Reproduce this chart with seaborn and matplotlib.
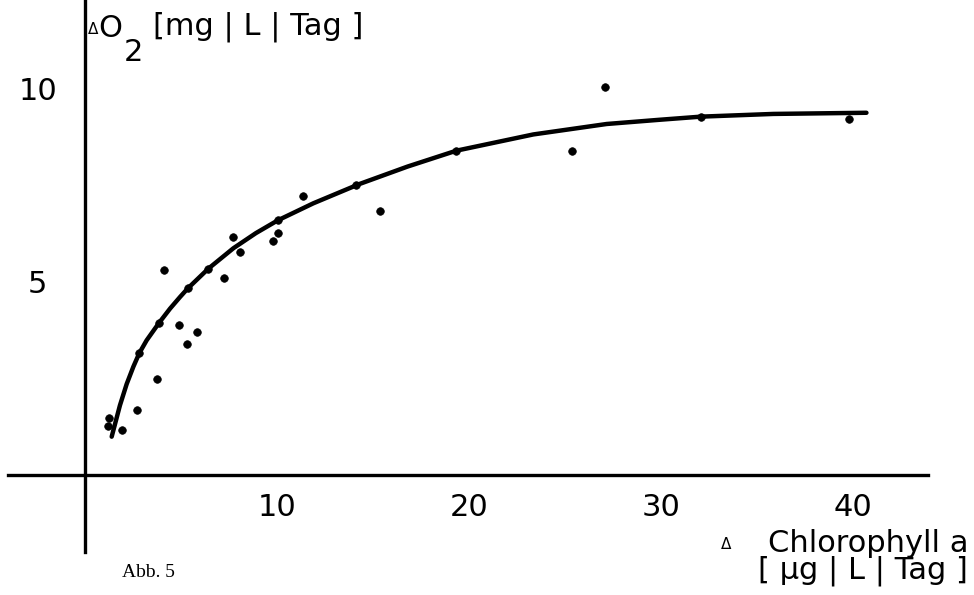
import numpy as np
import pandas as pd
import matplotlib
matplotlib.use("Agg")
import matplotlib.pyplot as plt
import seaborn as sns

# ---- data ----
chl_points = [1.18, 1.27, 1.91, 2.73, 3.73, 4.11, 4.88, 5.30, 5.85, 7.24, 7.73, 8.07,
              9.77, 10.04, 11.37, 15.35, 25.35, 27.08, 39.77,
              2.83, 3.84, 5.35, 6.42, 10.04, 14.11, 19.34, 32.08]
o2_points = [1.27, 1.47, 1.16, 1.67, 2.47, 5.30, 3.88, 3.39, 3.70, 5.09, 6.14, 5.75,
             6.04, 6.26, 7.22, 6.83, 8.36, 10.03, 9.21,
             3.15, 3.92, 4.82, 5.33, 6.58, 7.50, 8.38, 9.26]

curve_x = [1.39, 1.82, 2.17, 2.52, 2.83, 3.21, 3.84, 4.43, 4.95, 5.35, 6.42, 7.73,
           8.9, 10.04, 11.89, 14.3, 16.8, 19.34, 23.35, 27.17, 29.95, 32.08, 35.85, 40.7]
curve_y = [0.99, 1.80, 2.35, 2.80, 3.15, 3.48, 3.92, 4.30, 4.60, 4.82, 5.33, 5.86,
           6.25, 6.58, 7.02, 7.52, 7.97, 8.38, 8.80, 9.07, 9.18, 9.26, 9.33, 9.36]

x_ticks = [10, 20, 30, 40]
x_tick_labels = ["10", "20", "30", "40"]
y_ticks = [5, 10]
y_tick_labels = ["5", "10"]

sns.set_style("white")
FONT = ["DejaVu Sans"]
plt.rcParams["font.family"] = FONT
plt.rcParams["text.color"] = "black"

W, H = 974, 595
fig = plt.figure(figsize=(W / 100, H / 100), dpi=100)
ax = fig.add_axes([0, 0, 1, 1])
ax.set_facecolor("white")

pts = pd.DataFrame({"chl": chl_points, "o2": o2_points})
cur = pd.DataFrame({"chl": curve_x, "o2": curve_y})

sns.lineplot(data=cur, x="chl", y="o2", color="black", linewidth=3.2,
             sort=False, estimator=None, ax=ax)
sns.scatterplot(data=pts, x="chl", y="o2", color="black", s=30,
                edgecolor="black", linewidth=0.5, ax=ax, zorder=3)

# pixel mapping: x0=85 px, 19.2 px/unit ; y0=475 px, 38.7 px/unit
ax.set_xlim(-85 / 19.2, (W - 85) / 19.2)
ax.set_ylim((475 - H) / 38.7, 475 / 38.7)

for s in ["top", "right"]:
    ax.spines[s].set_visible(False)
ax.spines["left"].set_position(("data", 0))
ax.spines["bottom"].set_position(("data", 0))
ax.spines["left"].set_bounds(-2.0, 475 / 38.7)
ax.spines["bottom"].set_bounds(-4.0, 43.9)
for s in ["left", "bottom"]:
    ax.spines[s].set_linewidth(2.4)
    ax.spines[s].set_color("black")

ax.set_xticks(x_ticks)
ax.set_xticklabels(x_tick_labels)
ax.set_yticks(y_ticks)
ax.set_yticklabels(y_tick_labels, ha="center")
ax.tick_params(axis="x", direction="in", length=7, width=2.2, pad=13,
               labelsize=22, colors="black")
ax.tick_params(axis="y", direction="in", length=8, width=2.2, pad=34,
               labelsize=22, colors="black")
ax.set_xlabel("")
ax.set_ylabel("")


def ftext(px, py, s, **kw):
    fig.text(px / W, 1 - py / H, s, color="black", **kw)


# y-axis label (top left)
ftext(88, 34, "Δ", fontsize=11, va="baseline")
ftext(98, 37, "O", fontsize=22, va="baseline")
ftext(124, 61, "2", fontsize=22, va="baseline")
ftext(153, 35, "[mg | L | Tag ]", fontsize=22, va="baseline")

# x-axis label (bottom right)
ftext(721, 549, "Δ", fontsize=11, va="baseline")
ftext(968, 579, "Chlorophyll a\n[ µg | L | Tag ]", fontsize=22, va="baseline",
      ha="right", multialignment="right", linespacing=0.9)

# caption
ftext(122, 577, "Abb. 5", fontsize=14, family=["Liberation Serif", "DejaVu Serif"],
      va="baseline")

fig.savefig("out.png", dpi=100, facecolor="white")
